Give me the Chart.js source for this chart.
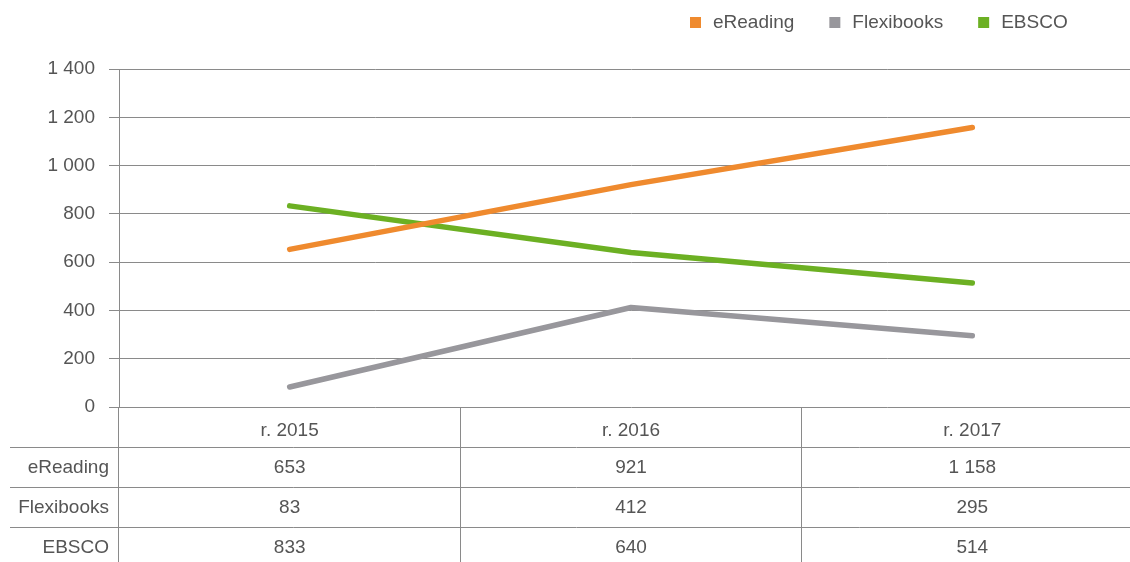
<!DOCTYPE html>
<html>
<head>
<meta charset="utf-8">
<title>eReading / Flexibooks / EBSCO</title>
<script src="https://cdn.jsdelivr.net/npm/chart.js@4.4.1/dist/chart.umd.min.js"></script>
<style>
    html, body { margin: 0; padding: 0; overflow: hidden; background: #fff; }
    #wrap { position: absolute; left: 0; top: 0; width: 1143px; height: 562px; }
</style>
</head>
<body>
<div id="wrap"><canvas id="chart" width="1143" height="562"></canvas></div>
<script>
var years = ['r. 2015', 'r. 2016', 'r. 2017'];
var eReading = [653, 921, 1158];
var flexibooks = [83, 412, 295];
var ebsco = [833, 640, 514];
var yTickValues = [0, 200, 400, 600, 800, 1000, 1200, 1400];

var gridColor = '#8a8a8a';
var textColor = '#555555';
var fontFamily = '"Liberation Sans", Arial, sans-serif';
var rowHeight = 40;

function fmt(v) {
    return String(v).replace(/\B(?=(\d{3})+(?!\d))/g, ' ');
}

// legenda u góry, po prawej
var legendPlugin = {
    id: 'topLegend',
    afterDraw: function (chart) {
        var ctx = chart.ctx;
        var x = 690, y = 23;
        ctx.save();
        ctx.font = '19px ' + fontFamily;
        ctx.textBaseline = 'middle';
        ctx.textAlign = 'left';
        chart.data.datasets.forEach(function (ds) {
            ctx.fillStyle = ds.borderColor;
            ctx.fillRect(x, y - 6, 11, 11);
            ctx.fillStyle = textColor;
            ctx.fillText(ds.label, x + 23, y);
            x += 23 + ctx.measureText(ds.label).width + 35;
        });
        ctx.restore();
    }
};

// tabela danych pod osią X
var tablePlugin = {
    id: 'dataTable',
    afterDraw: function (chart) {
        var ctx = chart.ctx;
        var area = chart.chartArea;
        var xs = chart.scales.x;
        ctx.save();
        ctx.strokeStyle = gridColor;
        ctx.lineWidth = 1;
        ctx.font = '19px ' + fontFamily;
        ctx.fillStyle = textColor;
        ctx.textBaseline = 'middle';
        chart.data.datasets.forEach(function (ds, r) {
            var top = Math.round(area.bottom + rowHeight * (r + 1)) + 0.5;
            ctx.beginPath();
            ctx.moveTo(10, top);
            ctx.lineTo(chart.width, top);
            ctx.stroke();
            ctx.textAlign = 'right';
            ctx.fillText(ds.label, 109, top + rowHeight / 2);
            ctx.textAlign = 'center';
            ds.data.forEach(function (v, i) {
                ctx.fillText(fmt(v), xs.getPixelForValue(i), top + rowHeight / 2);
            });
        });
        ctx.restore();
    }
};

Chart.defaults.font.family = fontFamily;
Chart.defaults.font.size = 19;
Chart.defaults.color = textColor;

function line(label, data, color) {
    return {
        label: label,
        data: data,
        borderColor: color,
        backgroundColor: color,
        borderWidth: 5.5,
        pointRadius: 0,
        pointHoverRadius: 0,
        borderCapStyle: 'round',
        borderJoinStyle: 'round',
        tension: 0
    };
}

new Chart(document.getElementById('chart').getContext('2d'), {
    type: 'line',
    data: {
        labels: years,
        datasets: [
            line('eReading', eReading, '#ef8a2e'),
            line('Flexibooks', flexibooks, '#98979c'),
            line('EBSCO', ebsco, '#6cb023')
        ]
    },
    options: {
        responsive: false,
        animation: false,
        layout: { padding: { top: 69, left: 0, right: 0, bottom: 0 } },
        plugins: {
            legend: { display: false },
            tooltip: { enabled: false }
        },
        scales: {
            x: {
                offset: true,
                grid: {
                    offset: true,
                    drawOnChartArea: false,
                    drawTicks: true,
                    tickLength: 155,
                    color: gridColor,
                    lineWidth: 1
                },
                border: { display: false },
                ticks: { padding: -143, maxRotation: 0, color: textColor },
                afterFit: function (scale) { scale.height = 155; }
            },
            y: {
                min: 0,
                max: 1400,
                afterBuildTicks: function (scale) {
                    scale.ticks = yTickValues.map(function (v) { return { value: v }; });
                },
                grid: { color: gridColor, lineWidth: 1, tickLength: 10 },
                border: { display: true, color: gridColor },
                ticks: { padding: 14, color: textColor, callback: function (v) { return fmt(v); } },
                afterFit: function (scale) { scale.width = 119; }
            }
        }
    },
    plugins: [legendPlugin, tablePlugin]
});
</script>
</body>
</html>
